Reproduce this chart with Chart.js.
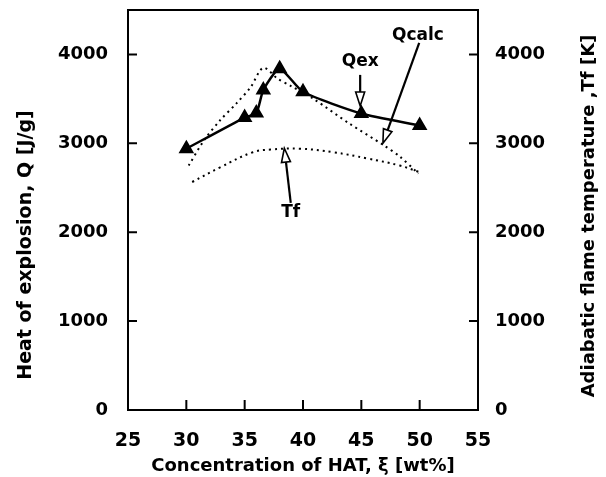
<!DOCTYPE html>
<html>
<head>
<meta charset="utf-8">
<script src="https://cdn.jsdelivr.net/npm/chart.js@4.4.1/dist/chart.umd.min.js"></script>
<style>
  html, body { margin: 0; padding: 0; background: #fff; }
  #wrap { width: 606px; height: 477px; }
</style>
</head>
<body>
<div id="wrap"><canvas id="c" width="606" height="477"></canvas></div>
<script>
// measured heat of explosion (triangles)
var qexX = [30, 35, 36, 36.6, 38, 40, 45, 50];
var qexY = [2940, 3290, 3340, 3600, 3840, 3580, 3335, 3200];

// calculated heat of explosion (dotted)
var qcalcX = [30.2, 31.5, 32.9, 34.3, 35.5, 36.6, 37.8, 38.9, 40.9, 44.0, 46.9, 48.3, 49.9];
var qcalcY = [2750, 3030, 3260, 3450, 3630, 3850, 3730, 3650, 3500, 3220, 2980, 2850, 2660];

// adiabatic flame temperature (dotted, right axis)
var tfX = [30.5, 32.9, 35.7, 37.2, 39.7, 42.6, 45.5, 48.3, 49.9];
var tfY = [2565, 2730, 2900, 2930, 2940, 2900, 2830, 2750, 2680];

var xTicks = [25, 30, 35, 40, 45, 50, 55];
var yTicks = [0, 1000, 2000, 3000, 4000];

var leftTitle = 'Heat of explosion, Q [J/g]';
var rightTitle = 'Adiabatic flame temperature ,Tf [K]';

// labels with arrows, in data units: [text, textX, textY, fromX, fromY, tipX, tipY]
var notes = [
  ['Qex', 44.9, 3920, 44.9, 3770, 44.9, 3420],
  ['Qcalc', 49.85, 4215, 49.96, 4130, 46.85, 3000],
  ['Tf', 38.95, 2225, 38.95, 2330, 38.4, 2945]
];

function pts(xs, ys) {
  return xs.map(function(x, i) { return {x: x, y: ys[i]}; });
}

var FONT = 'DejaVu Sans';

var framePlugin = {
  id: 'frame',
  afterDraw: function(chart) {
    var ctx = chart.ctx, a = chart.chartArea;
    var sx = chart.scales.x, sy = chart.scales.y, sy2 = chart.scales.y2;
    ctx.save();
    ctx.strokeStyle = '#000';
    ctx.lineWidth = 2;
    ctx.strokeRect(a.left, a.top, a.right - a.left, a.bottom - a.top);
    ctx.beginPath();
    xTicks.forEach(function(v) {
      var px = sx.getPixelForValue(v);
      ctx.moveTo(px, a.bottom); ctx.lineTo(px, a.bottom - 10);
    });
    yTicks.forEach(function(v) {
      var py = sy.getPixelForValue(v);
      ctx.moveTo(a.left, py); ctx.lineTo(a.left + 9, py);
      var py2 = sy2.getPixelForValue(v);
      ctx.moveTo(a.right, py2); ctx.lineTo(a.right - 9, py2);
    });
    ctx.stroke();

    // vertical axis titles
    var mid = (a.top + a.bottom) / 2;
    ctx.fillStyle = '#000';
    ctx.textAlign = 'center';
    ctx.textBaseline = 'middle';
    ctx.save();
    ctx.font = 'bold 19px ' + FONT;
    ctx.translate(26, mid + 35);
    ctx.rotate(-Math.PI / 2);
    ctx.fillText(leftTitle, 0, 0);
    ctx.restore();
    ctx.save();
    ctx.font = 'bold 18px ' + FONT;
    ctx.translate(chart.width - 17, mid + 6);
    ctx.rotate(-Math.PI / 2);
    ctx.fillText(rightTitle, 0, 0);
    ctx.restore();

    // annotations
    ctx.font = 'bold 17px ' + FONT;
    notes.forEach(function(n) {
      ctx.fillText(n[0], sx.getPixelForValue(n[1]), sy.getPixelForValue(n[2]));
      var x0 = sx.getPixelForValue(n[3]), y0 = sy.getPixelForValue(n[4]);
      var x1 = sx.getPixelForValue(n[5]), y1 = sy.getPixelForValue(n[6]);
      var ang = Math.atan2(y1 - y0, x1 - x0);
      var hl = 14, hw = 4.5;
      var bx = x1 - hl * Math.cos(ang), by = y1 - hl * Math.sin(ang);
      ctx.lineWidth = 2.2;
      ctx.beginPath();
      ctx.moveTo(x0, y0); ctx.lineTo(bx, by);
      ctx.stroke();
      ctx.lineWidth = 1.6;
      ctx.beginPath();
      ctx.moveTo(x1, y1);
      ctx.lineTo(bx + hw * Math.sin(ang), by - hw * Math.cos(ang));
      ctx.lineTo(bx - hw * Math.sin(ang), by + hw * Math.cos(ang));
      ctx.closePath();
      ctx.fillStyle = '#fff';
      ctx.fill();
      ctx.stroke();
      ctx.fillStyle = '#000';
    });
    ctx.restore();
  }
};

function keepTicks(list) {
  return function(scale) {
    scale.ticks = list.map(function(v) { return {value: v}; });
  };
}
function plain(v) { return String(v); }
function fitY(s) {
  s.width = 128;
  s.paddingTop = 0; s.paddingBottom = 0;
}
function fitX(s) {
  s.height = 67;
  s.paddingLeft = 0; s.paddingRight = 0;
}

new Chart(document.getElementById('c'), {
  type: 'line',
  data: {
    datasets: [{
      label: 'Qcalc',
      data: pts(qcalcX, qcalcY),
      yAxisID: 'y',
      borderColor: '#000',
      borderWidth: 2,
      borderDash: [2, 4],
      pointRadius: 0,
      tension: 0.3,
      fill: false
    }, {
      label: 'Tf',
      data: pts(tfX, tfY),
      yAxisID: 'y2',
      borderColor: '#000',
      borderWidth: 2,
      borderDash: [2, 4],
      pointRadius: 0,
      tension: 0.4,
      fill: false
    }, {
      label: 'Qex',
      data: pts(qexX, qexY),
      yAxisID: 'y',
      borderColor: '#000',
      borderWidth: 2.5,
      pointStyle: 'triangle',
      pointRadius: 6.5,
      pointBackgroundColor: '#000',
      pointBorderColor: '#000',
      tension: 0.2,
      fill: false
    }]
  },
  options: {
    responsive: false,
    animation: false,
    devicePixelRatio: 1,
    layout: { padding: { top: 10, left: 0, right: 0, bottom: 0 } },
    plugins: { legend: { display: false }, tooltip: { enabled: false } },
    scales: {
      x: {
        type: 'linear',
        min: 25, max: 55,
        afterBuildTicks: keepTicks(xTicks),
        afterFit: fitX,
        grid: { display: false },
        border: { display: false },
        ticks: { color: '#000', padding: 12, callback: plain, font: { family: FONT, size: 19, weight: 'bold' } },
        title: {
          display: true,
          text: 'Concentration of HAT, ξ [wt%]',
          color: '#000',
          font: { family: FONT, size: 18, weight: 'bold' },
          padding: { top: 0, bottom: 0 }
        }
      },
      y: {
        type: 'linear',
        position: 'left',
        min: 0, max: 4500,
        afterBuildTicks: keepTicks(yTicks),
        afterFit: fitY,
        grid: { display: false },
        border: { display: false },
        ticks: { color: '#000', padding: 12, callback: plain, font: { family: FONT, size: 18, weight: 'bold' } }
      },
      y2: {
        type: 'linear',
        position: 'right',
        min: 0, max: 4500,
        afterBuildTicks: keepTicks(yTicks),
        afterFit: fitY,
        grid: { display: false },
        border: { display: false },
        ticks: { color: '#000', padding: 9, callback: plain, font: { family: FONT, size: 18, weight: 'bold' } }
      }
    }
  },
  plugins: [framePlugin]
});
</script>
</body>
</html>
